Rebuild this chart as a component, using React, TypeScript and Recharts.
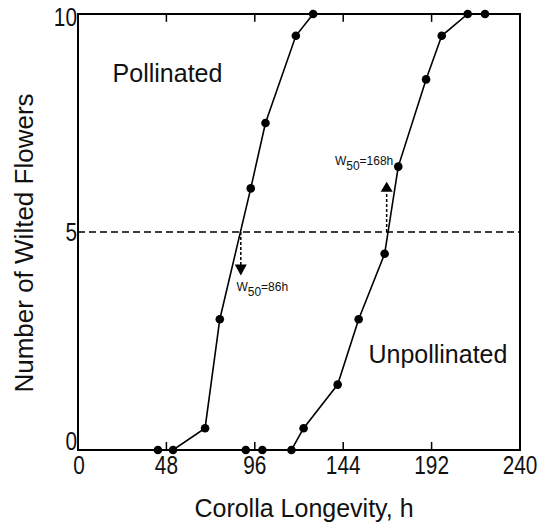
import React from 'react';
import { LineChart, Line, XAxis, YAxis, ReferenceLine, ReferenceArea, ReferenceDot } from 'recharts';

const pollinatedHours = [43.4, 51.6, 69.0, 77.0, 93.8, 101.8, 118.3, 127.7];
const pollinatedWilted = [0, 0, 0.5, 3, 6, 7.5, 9.5, 10];
const unpollinatedHours = [91.1, 100.1, 115.9, 122.5, 141.0, 152.4, 166.5, 173.9, 189.0, 197.5, 211.6, 221.0];
const unpollinatedWilted = [0, 0, 0, 0.5, 1.5, 3, 4.5, 6.5, 8.5, 9.5, 10, 10];
const xTicks = [0, 48, 96, 144, 192, 240];
const yTicks = [0, 5, 10];
const innerTicks = [48, 96, 144, 192];
const halfLevel = 5;
const w50PollArrowX = 88.4;
const w50UnpollArrowX = 167.6;
const pollArrowTip = 4.0;
const pollArrowBase = 4.22;
const unpollArrowTip = 6.15;
const unpollArrowBase = 5.92;

const pollinatedData = pollinatedHours.map((h, i) => ({ h, w: pollinatedWilted[i] }));
const unpollinatedData = unpollinatedHours.map((h, i) => ({ h, w: unpollinatedWilted[i] }));

const FONT = "'Liberation Sans', Arial, Helvetica, sans-serif";
const INK = '#111';

const XTick = (props: any) => {
  const { x, y, payload } = props;
  const v = payload.value;
  return (
    <g>
      {innerTicks.includes(v) && (
        <line x1={x} y1={y} x2={x} y2={y - 8} stroke="#000" strokeWidth={1.5} />
      )}
      <text
        transform={`translate(${x + (v === 0 ? 1 : 0)},${y + 24}) scale(0.8,1)`}
        textAnchor="middle"
        fontSize={26}
        fontFamily={FONT}
        fill={INK}
      >
        {v}
      </text>
    </g>
  );
};

const YTick = (props: any) => {
  const { x, y, payload } = props;
  const v = payload.value;
  const shift = v === 0 ? -9 : v === 10 ? 3 : 0;
  return (
    <text
      transform={`translate(${x - 1},${y + 9 + shift}) scale(0.8,1)`}
      textAnchor="end"
      fontSize={26}
      fontFamily={FONT}
      fill={INK}
    >
      {v}
    </text>
  );
};

const textShape = (label: string) => (p: any) => (
  <text x={p.cx} y={p.cy} fontSize={25} fontFamily={FONT} fill={INK}>
    {label}
  </text>
);

const w50Shape = (value: string) => (p: any) => (
  <text x={p.cx} y={p.cy} fontSize={12} fontFamily={FONT} fill={INK}>
    <tspan>W</tspan>
    <tspan dy={5} fontSize={12}>50</tspan>
    <tspan dy={-5}>{'=' + value}</tspan>
  </text>
);

const downArrow = (p: any) => (
  <polygon points={`${p.cx - 6},${p.cy - 11} ${p.cx + 6},${p.cy - 11} ${p.cx},${p.cy}`} fill="#000" />
);
const upArrow = (p: any) => (
  <polygon points={`${p.cx - 6},${p.cy + 10} ${p.cx + 6},${p.cy + 10} ${p.cx},${p.cy}`} fill="#000" />
);

const XLabel = (props: any) => {
  const vb = props.viewBox;
  return (
    <text x={vb.x + vb.width / 2 + 5} y={vb.y + 67} textAnchor="middle" fontSize={25} fontFamily={FONT} fill={INK}>
      Corolla Longevity, h
    </text>
  );
};

const YLabel = (props: any) => {
  const vb = props.viewBox;
  const cx = vb.x + 33;
  const cy = vb.y + vb.height / 2 + 11;
  return (
    <text transform={`translate(${cx},${cy}) rotate(-90)`} textAnchor="middle" fontSize={26} fontFamily={FONT} fill={INK}>
      Number of Wilted Flowers
    </text>
  );
};

export default function App() {
  return (
    <div style={{ position: 'absolute', left: 0, top: 0, width: 543, height: 523, background: '#fff' }}>
      <LineChart width={543} height={523} margin={{ top: 14, right: 23, left: 0, bottom: 0 }}>
        <XAxis
          type="number"
          dataKey="h"
          domain={[0, 240]}
          ticks={xTicks}
          interval={0}
          height={73}
          axisLine={false}
          tickLine={false}
          tickSize={0}
          tickMargin={0}
          tick={<XTick />}
          label={{ content: <XLabel /> } as any}
        />
        <YAxis
          type="number"
          domain={[0, 10]}
          ticks={yTicks}
          interval={0}
          width={78}
          axisLine={false}
          tickLine={false}
          tickSize={0}
          tickMargin={0}
          tick={<YTick />}
          label={{ content: <YLabel /> } as any}
        />
        <ReferenceArea x1={0} x2={240} y1={0} y2={10} fill="none" fillOpacity={0} stroke="#000" strokeWidth={2} />
        {innerTicks.map((t) => (
          <ReferenceLine
            key={t}
            segment={[{ x: t, y: 10 }, { x: t, y: 9.82 }]}
            stroke="#000"
            strokeWidth={1.5}
          />
        ))}
        <ReferenceLine y={halfLevel} stroke="#000" strokeWidth={1.5} strokeDasharray="7 4" />
        <ReferenceLine
          segment={[{ x: w50PollArrowX, y: halfLevel }, { x: w50PollArrowX, y: pollArrowBase }]}
          stroke="#000"
          strokeWidth={1.5}
          strokeDasharray="3 2"
        />
        <ReferenceLine
          segment={[{ x: w50UnpollArrowX, y: halfLevel }, { x: w50UnpollArrowX, y: unpollArrowBase }]}
          stroke="#000"
          strokeWidth={1.5}
          strokeDasharray="3 2"
        />
        <ReferenceDot x={w50PollArrowX} y={pollArrowTip} r={1} shape={downArrow} />
        <ReferenceDot x={w50UnpollArrowX} y={unpollArrowTip} r={1} shape={upArrow} />
        <ReferenceDot x={86.0} y={3.65} r={1} shape={w50Shape('86h')} />
        <ReferenceDot x={139.5} y={6.54} r={1} shape={w50Shape('168h')} />
        <ReferenceDot x={18.8} y={8.44} r={1} shape={textShape('Pollinated')} />
        <ReferenceDot x={157.7} y={2.0} r={1} shape={textShape('Unpollinated')} />
        <Line
          data={pollinatedData}
          dataKey="w"
          type="linear"
          stroke="#000"
          strokeWidth={1.6}
          dot={{ r: 4.3, fill: '#000', stroke: 'none' }}
          activeDot={false}
          isAnimationActive={false}
        />
        <Line
          data={unpollinatedData}
          dataKey="w"
          type="linear"
          stroke="#000"
          strokeWidth={1.6}
          dot={{ r: 4.3, fill: '#000', stroke: 'none' }}
          activeDot={false}
          isAnimationActive={false}
        />
      </LineChart>
    </div>
  );
}
